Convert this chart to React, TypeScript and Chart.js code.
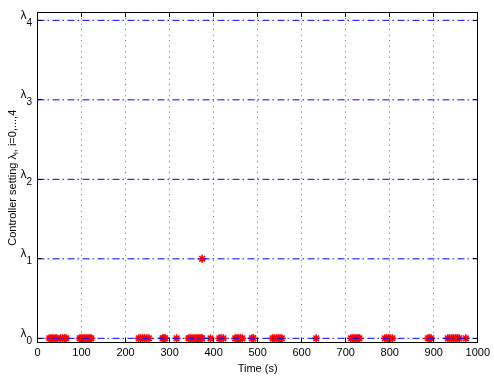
import { useEffect, useRef } from "react";
import { Chart, registerables } from "chart.js";

Chart.register(...registerables);

// Time axis ticks (s)
const timeTicks = [0, 100, 200, 300, 400, 500, 600, 700, 800, 900, 1000];
// Controller setting levels λ0 … λ4
const levelValues = [0, 1, 2, 3, 4];
const levelSubscripts = ["0", "1", "2", "3", "4"];

// Switching events: time (s) and selected controller level
const eventTimes = [
  27, 31, 35, 40, 44, 52, 57, 62, 65,
  96, 99, 103, 107, 111, 115, 119, 122,
  230, 234, 239, 243, 248, 253,
  284, 287, 290,
  316,
  343, 347, 351, 356, 360, 364, 367, 371, 374,
  374,
  393,
  413, 417, 422,
  449, 453, 457, 461, 465,
  487, 490,
  534, 538, 543, 547, 551, 555,
  633,
  712, 716, 720, 724, 728, 731,
  789, 793, 797, 801, 806,
  887, 890, 894,
  932, 936, 941, 945, 950, 954, 958,
  973,
];
const eventLevels = [
  0, 0, 0, 0, 0, 0, 0, 0, 0,
  0, 0, 0, 0, 0, 0, 0, 0,
  0, 0, 0, 0, 0, 0,
  0, 0, 0,
  0,
  0, 0, 0, 0, 0, 0, 0, 0, 0,
  1,
  0,
  0, 0, 0,
  0, 0, 0, 0, 0,
  0, 0,
  0, 0, 0, 0, 0, 0,
  0,
  0, 0, 0, 0, 0, 0,
  0, 0, 0, 0, 0,
  0, 0, 0,
  0, 0, 0, 0, 0, 0, 0,
  0,
];

const FONT = "'Liberation Sans', Arial, Helvetica, sans-serif";

// Closed axes box, inward ticks, subscripted λ labels and axis titles
const axesDecor = {
  id: "axesDecor",
  afterDatasetsDraw(chart: any) {
    const { ctx, chartArea: a, scales } = chart;
    const xs = scales.x;
    const ys = scales.y;
    const al = (p: number) => Math.round(p - 0.5) + 0.5;
    const L = al(a.left), R = al(a.right), T = al(a.top), B = al(a.bottom);
    ctx.save();
    ctx.strokeStyle = "#000";
    ctx.lineWidth = 1;
    ctx.setLineDash([]);
    ctx.strokeRect(L, T, R - L, B - T);

    const tl = 4.5;
    ctx.beginPath();
    for (const t of timeTicks) {
      const px = al(xs.getPixelForValue(t));
      ctx.moveTo(px, B);
      ctx.lineTo(px, B - tl);
      ctx.moveTo(px, T);
      ctx.lineTo(px, T + tl);
    }
    for (const v of levelValues) {
      const py = al(ys.getPixelForValue(v));
      ctx.moveTo(L, py);
      ctx.lineTo(L + tl, py);
      ctx.moveTo(R, py);
      ctx.lineTo(R - tl, py);
    }
    ctx.stroke();

    // λ tick labels
    ctx.fillStyle = "#000";
    ctx.textBaseline = "alphabetic";
    levelValues.forEach((v, i) => {
      const py = ys.getPixelForValue(v);
      ctx.font = `12px ${FONT}`;
      ctx.textAlign = "right";
      ctx.fillText("λ", 26.5, py - 1.5);
      ctx.font = `10px ${FONT}`;
      ctx.textAlign = "left";
      ctx.fillText(levelSubscripts[i], 26.5, py + 5.5);
    });

    // x title
    ctx.font = `11px ${FONT}`;
    ctx.textAlign = "center";
    ctx.textBaseline = "middle";
    ctx.fillText("Time (s)", (a.left + a.right) / 2, 369);

    // y title, rotated, with subscript i
    const parts: [string, number, number][] = [
      ["Controller setting λ", 11, 0],
      ["i", 8, 3.5],
      [", i=0,...,4", 11, 0],
    ];
    let total = 0;
    for (const [s, size] of parts) {
      ctx.font = `${size}px ${FONT}`;
      total += ctx.measureText(s).width;
    }
    ctx.translate(12.5, (a.top + a.bottom) / 2);
    ctx.rotate(-Math.PI / 2);
    ctx.textAlign = "left";
    ctx.textBaseline = "middle";
    let cx = -total / 2;
    for (const [s, size, dy] of parts) {
      ctx.font = `${size}px ${FONT}`;
      ctx.fillText(s, cx, dy);
      cx += ctx.measureText(s).width;
    }
    ctx.restore();
  },
};

export default function App() {
  const canvasRef = useRef<HTMLCanvasElement | null>(null);

  useEffect(() => {
    const canvas = canvasRef.current;
    if (!canvas) return;

    const levelLines = levelValues.map((v) => ({
      type: "line" as const,
      label: `level ${v}`,
      data: [
        { x: timeTicks[0], y: v },
        { x: timeTicks[timeTicks.length - 1], y: v },
      ],
      borderColor: "#0000ff",
      borderWidth: 1,
      borderDash: [7, 3, 1.5, 3.5],
      pointRadius: 0,
      showLine: true,
      fill: false,
    }));

    const events = {
      type: "scatter" as const,
      label: "events",
      data: eventTimes.map((t, i) => ({ x: t, y: eventLevels[i] })),
      pointStyle: "star",
      pointRadius: 4,
      pointBorderWidth: 1.6,
      borderColor: "#ff0000",
      backgroundColor: "#ff0000",
      borderWidth: 1.6,
      showLine: false,
    };

    const chart = new Chart(canvas, {
      type: "scatter",
      data: { datasets: [...levelLines, events] as any },
      options: {
        animation: false,
        responsive: false,
        devicePixelRatio: 1,
        layout: { padding: { top: 12.7, right: 13.5, left: 0, bottom: 0 } },
        plugins: { legend: { display: false }, tooltip: { enabled: false } },
        scales: {
          x: {
            type: "linear",
            min: 0,
            max: 1000,
            afterBuildTicks: (s: any) => {
              s.ticks = timeTicks.map((v) => ({ value: v }));
            },
            afterFit: (s: any) => {
              s.height = 35.3;
            },
            ticks: {
              color: "#000",
              font: { family: FONT, size: 11 },
              padding: 4,
              maxRotation: 0,
              autoSkip: false,
              callback: (v: any) => String(v),
            },
            grid: {
              color: "rgba(0,0,0,0.6)",
              lineWidth: 1,
              drawTicks: false,
            },
            border: { display: false, dash: [1, 4.5] },
          },
          y: {
            type: "linear",
            min: -0.055,
            max: 4.096,
            afterFit: (s: any) => {
              s.width = 37.5;
            },
            ticks: { display: false },
            grid: { display: false },
            border: { display: false },
          },
        },
      },
      plugins: [axesDecor],
    });

    return () => chart.destroy();
  }, []);

  return (
    <div style={{ position: "absolute", left: 0, top: 0, width: 494, height: 378, background: "#fff" }}>
      <canvas ref={canvasRef} width={494} height={378} />
    </div>
  );
}
